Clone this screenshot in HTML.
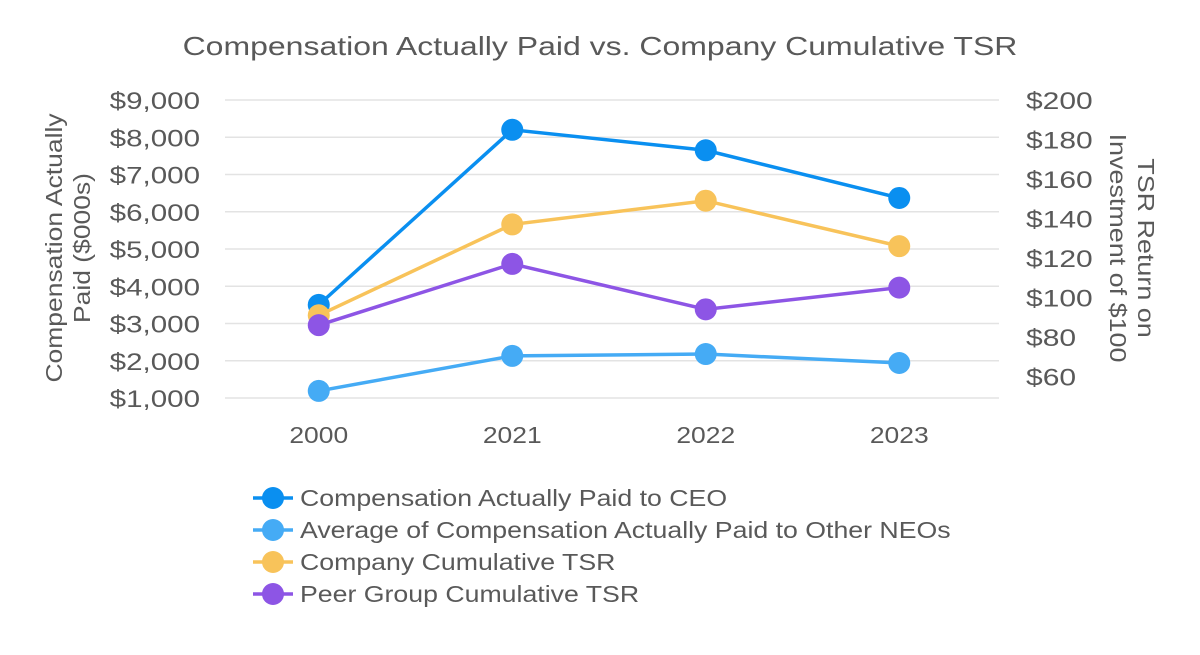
<!DOCTYPE html>
<html><head><meta charset="utf-8"><style>
body{margin:0;background:#fff;}
svg text{font-family:"Liberation Sans",sans-serif;fill:#595959;}
</style></head><body>
<svg id="chart" width="1200" height="650">
<text class="st" data-r="1.23" x="600" y="55" font-size="26" text-anchor="middle">Compensation Actually Paid vs. Company Cumulative TSR</text>
<g id="grid"></g><g id="axes"></g><g id="series"></g><g id="legend"></g>
<text transform="translate(62,248) rotate(-90)" font-size="23" text-anchor="middle"><tspan class="st" data-r="1.15" x="0" dy="0">Compensation Actually</tspan><tspan class="st" data-r="1.15" x="0" dy="28">Paid ($000s)</tspan></text>
<text transform="translate(1138,248) rotate(90)" font-size="23" text-anchor="middle"><tspan class="st" data-r="1.17" x="0" dy="0">TSR Return on</tspan><tspan class="st" data-r="1.17" x="0" dy="28">Investment of $100</tspan></text>
</svg>
<script>
const categories=["2000","2021","2022","2023"];
const ceoComp=[3500,8200,7650,6370];
const neoComp=[1190,2130,2180,1940];
const companyTSR=[91,137,149,126];
const peerTSR=[86,117,94,105];
const leftTicks=[1000,2000,3000,4000,5000,6000,7000,8000,9000];
const rightTicks=[60,80,100,120,140,160,180,200];
const NS="http://www.w3.org/2000/svg";
function mk(t,a,p){const e=document.createElementNS(NS,t);for(const k in a)e.setAttribute(k,a[k]);p.appendChild(e);return e;}
const x0=225,x1=999,bw=(x1-x0)/categories.length;
const xs=i=>x0+bw*(i+0.5)-3;
const yL=v=>398-(v-1000)*(298/8000);
const yR=v=>100+(200-v)*1.975;
const grid=document.getElementById('grid'),axes=document.getElementById('axes'),ser=document.getElementById('series'),leg=document.getElementById('legend');
leftTicks.forEach(v=>{
 const l=mk('line',{x1:x0,x2:x1,y1:yL(v),y2:yL(v),stroke:'#e3e3e3','stroke-width':1.5},grid);
 
 
 const t=mk('text',{x:200,y:yL(v)+9,'font-size':24,'text-anchor':'end',class:'st','data-r':'1.23'},axes);t.textContent='$'+v.toLocaleString('en-US');
 
 
});
rightTicks.forEach(v=>{
 const t=mk('text',{x:1026,y:yR(v)+9,'font-size':24,class:'st','data-r':'1.25'},axes);t.textContent='$'+v;
 
 
});
categories.forEach((c,i)=>{
 const t=mk('text',{x:xs(i),y:443,'font-size':23,'text-anchor':'middle',class:'st','data-r':'1.15'},axes);t.textContent=c;
 
 
});
const series=[
 {name:'Compensation Actually Paid to CEO',vals:ceoComp,y:yL,c:'#0a8ff0',k:'ceo'},
 {name:'Average of Compensation Actually Paid to Other NEOs',vals:neoComp,y:yL,c:'#45abf5',k:'neo'},
 {name:'Company Cumulative TSR',vals:companyTSR,y:yR,c:'#f8c35a',k:'company-tsr'},
 {name:'Peer Group Cumulative TSR',vals:peerTSR,y:yR,c:'#8d55e5',k:'peer-tsr'}];
series.forEach((s,si)=>{
 const g=mk('g',{},ser);
 
 
 const pl=mk('polyline',{points:s.vals.map((v,i)=>xs(i)+','+s.y(v)).join(' '),fill:'none',stroke:s.c,'stroke-width':3.5},g);
 
 
 s.vals.forEach((v,i)=>{
  const p=mk('circle',{cx:xs(i),cy:s.y(v),r:11,fill:s.c},g);
  
  
 });
 const ly=498+si*32;
 const lg=mk('g',{},leg);
 
 
 mk('line',{x1:253,x2:293,y1:ly,y2:ly,stroke:s.c,'stroke-width':3.5},lg);
 mk('circle',{cx:273,cy:ly,r:11,fill:s.c},lg);
 const t=mk('text',{x:300,y:ly+8,'font-size':23,class:'st','data-r':'1.16'},lg);t.textContent=s.name;
});
document.querySelectorAll('.st').forEach(e=>{
 const w=e.getComputedTextLength();
 e.setAttribute('textLength',(w*parseFloat(e.getAttribute('data-r'))).toFixed(1));
 e.setAttribute('lengthAdjust','spacingAndGlyphs');
});
</script>
</body></html>
